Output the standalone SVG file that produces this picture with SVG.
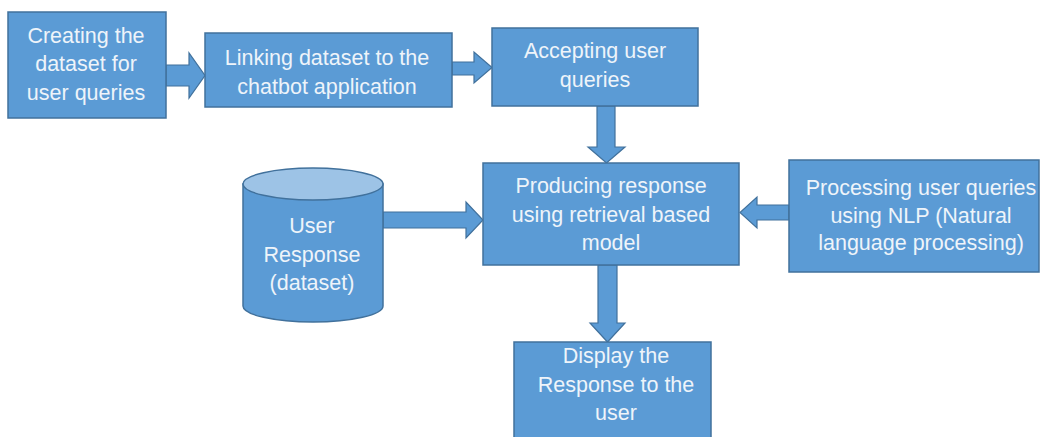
<svg xmlns="http://www.w3.org/2000/svg" width="1046" height="437" viewBox="0 0 1046 437">
  <style>
    .box { fill: #5B9BD5; stroke: #41719C; stroke-width: 1.5; }
    .arrow { fill: #5B9BD5; stroke: #41719C; stroke-width: 1.2; stroke-linejoin: miter; }
    .cyl-top { fill: #9DC3E6; stroke: #41719C; stroke-width: 1.5; }
    .label { font-family: "Liberation Sans", Arial, sans-serif; font-size: 21.5px; fill: #EEF4FA; text-anchor: middle; }
  </style>
  <rect width="1046" height="437" fill="#FFFFFF"/>

  <!-- connectors: block arrows -->
  <g id="connectors">
    <!-- create dataset -> link dataset -->
    <path class="arrow" d="M166,65 H189 V53 L205,75.5 L189,98 V86 H166 Z"/>
    <!-- link dataset -> accept queries -->
    <path class="arrow" d="M452,62 H474 V52 L492,67.5 L474,83 V75 H452 Z"/>
    <!-- accept queries -> produce response -->
    <path class="arrow" d="M597,106 V147 H588 L606.5,163 L625,147 H615 V106 Z"/>
    <!-- dataset store -> produce response -->
    <path class="arrow" d="M383,212 H466 V202 L483,220 L466,238 V228 H383 Z"/>
    <!-- NLP processing -> produce response -->
    <path class="arrow" d="M789,205 H757 V197 L740,212.5 L757,228 V220 H789 Z"/>
    <!-- produce response -> display -->
    <path class="arrow" d="M598,265 V323 H590 L607.5,342 L625,323 H617 V265 Z"/>
  </g>

  <g id="create-dataset">
    <rect class="box" x="8" y="12" width="158" height="106"/>
    <text class="label" x="86" y="43">Creating the</text>
    <text class="label" x="86" y="71">dataset for</text>
    <text class="label" x="86" y="100">user queries</text>
  </g>

  <g id="link-dataset">
    <rect class="box" x="205" y="33" width="247" height="74"/>
    <text class="label" x="327" y="65">Linking dataset to the</text>
    <text class="label" x="327" y="94">chatbot application</text>
  </g>

  <g id="accept-queries">
    <rect class="box" x="492" y="28" width="206" height="78"/>
    <text class="label" x="595" y="58">Accepting user</text>
    <text class="label" x="595" y="87">queries</text>
  </g>

  <g id="produce-response">
    <rect class="box" x="483" y="163" width="256" height="102"/>
    <text class="label" x="611" y="193">Producing response</text>
    <text class="label" x="611" y="222">using retrieval based</text>
    <text class="label" x="611" y="250">model</text>
  </g>

  <g id="nlp-processing">
    <rect class="box" x="789" y="160" width="250" height="112"/>
    <text class="label" x="921" y="195">Processing user queries</text>
    <text class="label" x="921" y="223">using NLP (Natural</text>
    <text class="label" x="921" y="250">language processing)</text>
  </g>

  <g id="response-dataset">
    <path class="box" d="M243,184 V306 A70,16 0 0 0 383,306 V184 Z"/>
    <ellipse class="cyl-top" cx="313" cy="184" rx="70" ry="16"/>
    <text class="label" x="312" y="233">User</text>
    <text class="label" x="312" y="262">Response</text>
    <text class="label" x="312" y="290">(dataset)</text>
  </g>

  <g id="display-response">
    <rect class="box" x="514" y="342" width="197" height="100"/>
    <text class="label" x="616" y="363">Display the</text>
    <text class="label" x="616" y="392">Response to the</text>
    <text class="label" x="616" y="420">user</text>
  </g>
</svg>
